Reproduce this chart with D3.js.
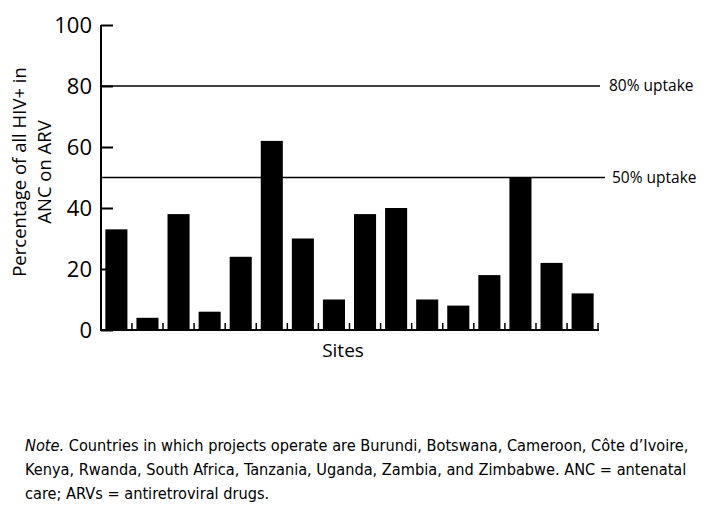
<!DOCTYPE html>
<html>
<head>
<meta charset="utf-8">
<script src="https://cdn.jsdelivr.net/npm/d3@7"></script>
<style>
  body { margin: 0; background: #fff; }
  svg { display: block; }
  .note { font-family: "DejaVu Sans Condensed", "DejaVu Sans", sans-serif; font-stretch: condensed; font-size: 16.2px; }
</style>
</head>
<body>
<div id="chart"></div>
<script>
var sites = d3.range(1, 17).map(function(d) { return 'Site ' + d; });
var uptake = [33, 4, 38, 6, 24, 62, 30, 10, 38, 40, 10, 8, 18, 50, 22, 12];
var yTicks = [0, 20, 40, 60, 80, 100];
var refLines = [80, 50];
var refLabels = ['80% uptake', '50% uptake'];
var noteLines = [
    ['Note.', ' Countries in which projects operate are Burundi, Botswana, Cameroon, C\u00f4te d\u2019Ivoire,'],
    ['', 'Kenya, Rwanda, South Africa, Tanzania, Uganda, Zambia, and Zimbabwe.  ANC = antenatal'],
    ['', 'care; ARVs = antiretroviral drugs.']
];

(function() {
    var width = 720, height = 524;
    var mLeft = 101, mRight = 598, mTop = 25, mBottom = 330;
    var font = '"Open Sans", "Noto Sans", sans-serif';

    var svg = d3.select('#chart').append('svg')
        .attr('width', width).attr('height', height);

    var x = d3.scaleBand().domain(sites).range([mLeft, mRight]).paddingInner(0.29).paddingOuter(0.14);
    var y = d3.scaleLinear().domain([0, 100]).range([mBottom, mTop]);

    // Reference lines
    svg.selectAll('line.ref').data(refLines).enter().append('line')
        .attr('class', 'ref')
        .attr('x1', mLeft).attr('x2', function(d, i) { return i === 0 ? 600 : 605; })
        .attr('y1', y).attr('y2', y)
        .style('stroke', '#000').style('stroke-width', 1.5);

    svg.selectAll('text.ref').data(refLines).enter().append('text')
        .attr('class', 'ref')
        .attr('x', function(d, i) { return i === 0 ? 609 : 612; })
        .attr('y', function(d) { return y(d) + 5; })
        .style('font-family', font).style('font-size', '15.5px')
        .text(function(d, i) { return refLabels[i]; });

    // Bars
    svg.selectAll('rect.bar').data(uptake).enter().append('rect')
        .attr('class', 'bar')
        .attr('x', function(d, i) { return x(sites[i]); })
        .attr('width', x.bandwidth())
        .attr('y', function(d) { return y(d); })
        .attr('height', function(d) { return mBottom - y(d); })
        .style('fill', '#000');

    // Y axis, ticks pointing inward
    var yAxis = svg.append('g').attr('transform', 'translate(' + mLeft + ',0)')
        .call(d3.axisRight(y).tickValues(yTicks).tickSize(12).tickFormat(''));
    yAxis.select('.domain').remove();
    yAxis.selectAll('line').style('stroke-width', 2);
    svg.append('line').attr('x1', mLeft).attr('x2', mLeft).attr('y1', mTop).attr('y2', mBottom + 1)
        .style('stroke', '#000').style('stroke-width', 2);

    svg.selectAll('text.ytick').data(yTicks).enter().append('text')
        .attr('class', 'ytick')
        .attr('x', mLeft - 9).attr('y', function(d) { return y(d) + 8; })
        .attr('text-anchor', 'end')
        .style('font-family', font).style('font-size', '22px')
        .text(function(d) { return d; });

    // X axis with small upward ticks between bars
    svg.append('line').attr('x1', mLeft).attr('x2', mRight + 1).attr('y1', mBottom).attr('y2', mBottom)
        .style('stroke', '#000').style('stroke-width', 2);
    var boundaries = sites.slice(1).map(function(s) { return x(s) - x.step() * x.paddingInner() / 2; });
    boundaries.push(mRight);
    svg.selectAll('line.xtick').data(boundaries).enter().append('line')
        .attr('class', 'xtick')
        .attr('x1', function(d) { return d; }).attr('x2', function(d) { return d; })
        .attr('y1', mBottom).attr('y2', mBottom - 7)
        .style('stroke', '#000').style('stroke-width', 1.5);

    svg.append('text').attr('x', 343).attr('y', 357).attr('text-anchor', 'middle')
        .style('font-family', font).style('font-size', '19px').text('Sites');

    // Y label
    var ylab = svg.append('text')
        .attr('transform', 'translate(20,172) rotate(-90)')
        .attr('text-anchor', 'middle')
        .style('font-family', font).style('font-size', '18.5px');
    ylab.append('tspan').attr('x', 0).attr('dy', '0.35em').text('Percentage of all HIV+ in');
    ylab.append('tspan').attr('x', 0).attr('dy', '1.35em').text('ANC on ARV');

    // Note
    noteLines.forEach(function(l, i) {
        var t = svg.append('text').attr('class', 'note').attr('x', 25).attr('y', 451 + i * 24);
        if (l[0]) t.append('tspan').style('font-style', 'italic').text(l[0]);
        t.append('tspan').text(l[1]);
    });
}());
</script>
</body>
</html>
